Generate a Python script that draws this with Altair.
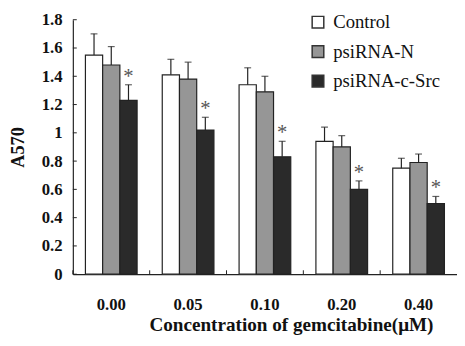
import altair as alt
import pandas as pd

concentrations = ["0.00", "0.05", "0.10", "0.20", "0.40"]
groups = ["Control", "psiRNA-N", "psiRNA-c-Src"]
control = [1.55, 1.41, 1.34, 0.94, 0.75]
control_err = [0.15, 0.11, 0.12, 0.10, 0.07]
psirna_n = [1.48, 1.38, 1.29, 0.90, 0.79]
psirna_n_err = [0.13, 0.12, 0.11, 0.08, 0.06]
psirna_src = [1.23, 1.02, 0.83, 0.60, 0.50]
psirna_src_err = [0.11, 0.09, 0.11, 0.06, 0.05]
y_ticks = [0.0, 0.2, 0.4, 0.6, 0.8, 1.0, 1.2, 1.4, 1.6, 1.8]

rows = []
for g, vals, errs in zip(groups, [control, psirna_n, psirna_src],
                         [control_err, psirna_n_err, psirna_src_err]):
    for c, v, e in zip(concentrations, vals, errs):
        rows.append({"conc": c, "group": g, "value": v, "top": v + e,
                     "star": "*" if g == "psiRNA-c-Src" else ""})
df = pd.DataFrame(rows)
ticks_df = pd.DataFrame({"t": y_ticks})
cat_df = pd.DataFrame({"conc": concentrations})

W, H = 391, 259
FONT = "Liberation Serif"

xaxis = alt.Axis(title="Concentration of gemcitabine(\u03bcM)",
                 labelAngle=0, tickSize=0, labelPadding=23,
                 labelFont=FONT, labelFontSize=17, labelFontWeight="bold",
                 labelColor="#111",
                 titleFont=FONT, titleFontSize=19.5, titleFontWeight="bold",
                 titleColor="#111", titleX=222, titleY=57.5,
                 titleAlign="center", titleBaseline="alphabetic",
                 domainColor="#222", domainWidth=1.2)
yaxis = alt.Axis(title="A570", values=y_ticks, format=".1~f",
                 labelOverlap=False, tickCount=10,
                 tickSize=0, labelPadding=11, grid=False,
                 labelFont=FONT, labelFontSize=17, labelFontWeight="bold",
                 labelColor="#111",
                 titleFont=FONT, titleFontSize=18.5, titleFontWeight="bold",
                 titleColor="#111", titleX=-56, titleY=H / 2,
                 titleAngle=-90, titleAlign="center", titleBaseline="middle",
                 domainColor="#222", domainWidth=1.2)

xscale = alt.Scale(paddingInner=0, paddingOuter=0)
xoff = alt.XOffset("group:N", sort=groups,
                   scale=alt.Scale(paddingInner=0, paddingOuter=0.73))
yscale = alt.Scale(domain=[0, 1.8], nice=False)


def X(**kw):
    return alt.X("conc:N", sort=concentrations, scale=xscale, axis=xaxis, **kw)


bars = alt.Chart(df).mark_bar(stroke="#222", strokeWidth=1.2).encode(
    x=X(),
    xOffset=xoff,
    y=alt.Y("value:Q", scale=yscale, axis=yaxis),
    color=alt.Color("group:N", sort=groups,
                    scale=alt.Scale(domain=groups, range=["#ffffff", "#969696", "#2a2a2a"]),
                    legend=alt.Legend(title=None, orient="none", legendX=240, legendY=-7,
                                      symbolType="square", symbolSize=140,
                                      symbolStrokeColor="#333", symbolStrokeWidth=1.5,
                                      labelFont=FONT, labelFontSize=19, labelColor="#111",
                                      rowPadding=10, labelOffset=6, padding=0)),
)

err_rule = alt.Chart(df).mark_rule(color="#222", strokeWidth=1.2).encode(
    x=X(), xOffset=xoff,
    y=alt.Y("value:Q", scale=yscale, axis=yaxis), y2="top:Q")
err_cap = alt.Chart(df).mark_tick(color="#222", thickness=1.2, size=7).encode(
    x=X(), xOffset=xoff,
    y=alt.Y("top:Q", scale=yscale, axis=yaxis))
stars = alt.Chart(df).mark_text(font=FONT, fontSize=21, color="#555",
                                baseline="alphabetic", dy=-2).encode(
    x=X(), xOffset=xoff,
    y=alt.Y("top:Q", scale=yscale, axis=yaxis), text="star:N")

ytick_marks = alt.Chart(ticks_df).mark_rule(color="#222", strokeWidth=1).encode(
    y=alt.Y("t:Q", scale=yscale, axis=yaxis), x=alt.value(0), x2=alt.value(4))
xtick_marks = alt.Chart(cat_df).mark_rule(color="#222", strokeWidth=1).encode(
    x=X(bandPosition=0),
    y=alt.value(H), y2=alt.value(H - 4))

chart = alt.layer(bars, err_rule, err_cap, stars, ytick_marks, xtick_marks).properties(
    width=W, height=H,
    autosize=alt.AutoSizeParams(type="none"),
    padding={"left": 66, "top": 9, "right": 0, "bottom": 62},
).configure_view(stroke=None).configure_axis(grid=False)

chart.save("out.html", embed_options={"renderer": "svg", "actions": False})
